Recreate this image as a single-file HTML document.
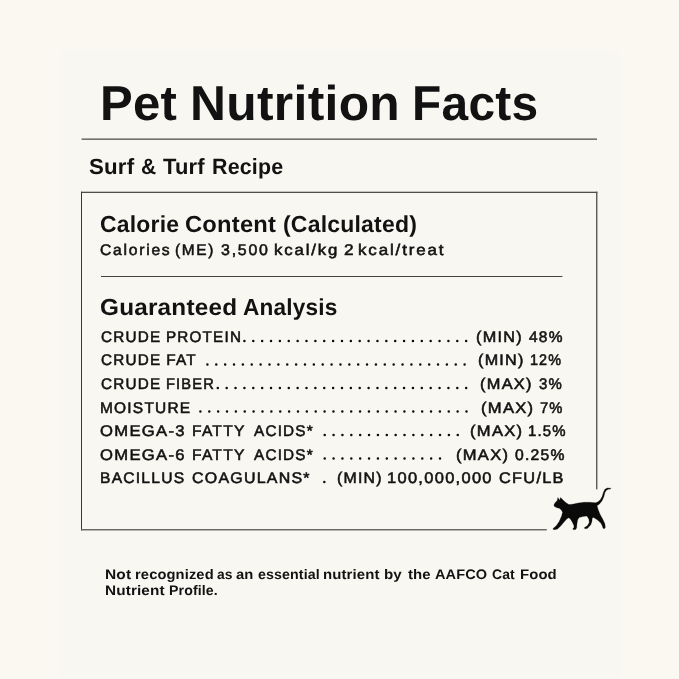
<!DOCTYPE html>
<html><head><meta charset="utf-8">
<style>
html,body{margin:0;padding:0;}
body{width:679px;height:679px;background:#fbf8f1;position:relative;overflow:hidden;font-family:"Liberation Sans",sans-serif;color:#121212;text-rendering:geometricPrecision;}
.panel{position:absolute;left:60px;top:50px;width:560px;height:640px;background:#f9f7f1;border-radius:6px;}
.wrap{position:absolute;left:0;top:0;width:679px;height:679px;will-change:transform;}
.t{position:absolute;white-space:nowrap;line-height:1;color:#121212;transform-origin:0 0;}
.title{font-size:49px;font-weight:bold;letter-spacing:0.3px;}
.sub{font-size:22px;font-weight:bold;letter-spacing:0.2px;}
.h{font-size:23.2px;font-weight:bold;letter-spacing:0.2px;}
.cal{font-size:15.4px;font-weight:normal;letter-spacing:1.7px;-webkit-text-stroke:0.55px #121212;}
.row{font-size:15.4px;font-weight:normal;letter-spacing:1.2px;-webkit-text-stroke:0.55px #121212;}
.fn{font-size:13.8px;font-weight:bold;letter-spacing:0.1px;}
svg{position:absolute;left:0;top:0;}
</style></head><body>
<div class="panel"></div>
<div class="wrap">
<span class="t title" style="left:99.85px;top:80px;transform:scaleX(1.0014);">Pet</span>
<span class="t title" style="left:190.10px;top:80px;transform:scaleX(1.0157);">Nutrition</span>
<span class="t title" style="left:412.32px;top:80px;transform:scaleX(0.9770);">Facts</span>
<span class="t sub" style="left:88.94px;top:156px;transform:scaleX(1.0125);">Surf</span>
<span class="t sub" style="left:140.65px;top:156px;transform:scaleX(0.9544);">&amp;</span>
<span class="t sub" style="left:163.05px;top:156px;transform:scaleX(0.9976);">Turf</span>
<span class="t sub" style="left:212.04px;top:156px;transform:scaleX(0.9718);">Recipe</span>
<span class="t h" style="left:100.01px;top:213px;transform:scaleX(0.9904);">Calorie</span>
<span class="t h" style="left:185.38px;top:213px;transform:scaleX(1.0246);">Content</span>
<span class="t h" style="left:282.96px;top:213px;transform:scaleX(0.9921);">(Calculated)</span>
<span class="t cal" style="left:100.29px;top:243px;transform:scaleX(1.0200);">Calories</span>
<span class="t cal" style="left:175.29px;top:243px;transform:scaleX(0.9994);">(ME)</span>
<span class="t cal" style="left:220.64px;top:243px;transform:scaleX(1.0357);">3,500</span>
<span class="t cal" style="left:273.88px;top:243px;transform:scaleX(1.0917);">kcal/kg</span>
<span class="t cal" style="left:344.04px;top:243px;transform:scaleX(1.1194);">2</span>
<span class="t cal" style="left:358.47px;top:243px;transform:scaleX(1.1006);">kcal/treat</span>
<span class="t h" style="left:100.25px;top:296px;transform:scaleX(1.0488);">Guaranteed</span>
<span class="t h" style="left:242.67px;top:296px;transform:scaleX(0.9753);">Analysis</span>
<span class="t row" style="left:100.70px;top:330px;transform:scaleX(0.9923);">CRUDE</span>
<span class="t row" style="left:166.31px;top:330px;transform:scaleX(0.9905);">PROTEIN</span>
<span class="t row" style="left:475.81px;top:330px;transform:scaleX(1.0550);">(MIN)</span>
<span class="t row" style="left:528.60px;top:330px;transform:scaleX(1.0061);">48%</span>
<span class="t row" style="left:100.70px;top:353px;transform:scaleX(0.9923);">CRUDE</span>
<span class="t row" style="left:166.30px;top:353px;transform:scaleX(1.0000);">FAT</span>
<span class="t row" style="left:478.11px;top:353px;transform:scaleX(1.0502);">(MIN)</span>
<span class="t row" style="left:529.66px;top:353px;transform:scaleX(0.9347);">12%</span>
<span class="t row" style="left:100.70px;top:377px;transform:scaleX(0.9923);">CRUDE</span>
<span class="t row" style="left:166.35px;top:377px;transform:scaleX(0.9529);">FIBER</span>
<span class="t row" style="left:480.13px;top:377px;transform:scaleX(1.0637);">(MAX)</span>
<span class="t row" style="left:538.76px;top:377px;transform:scaleX(0.9717);">3%</span>
<span class="t row" style="left:100.19px;top:401px;transform:scaleX(1.0062);">MOISTURE</span>
<span class="t row" style="left:481.20px;top:401px;transform:scaleX(1.0771);">(MAX)</span>
<span class="t row" style="left:539.66px;top:401px;transform:scaleX(0.9571);">7%</span>
<span class="t row" style="left:100.26px;top:424px;transform:scaleX(1.0803);">OMEGA-3</span>
<span class="t row" style="left:191.69px;top:424px;transform:scaleX(1.0148);">FATTY</span>
<span class="t row" style="left:253.75px;top:424px;transform:scaleX(0.9941);">ACIDS*</span>
<span class="t row" style="left:470.49px;top:424px;transform:scaleX(1.0755);">(MAX)</span>
<span class="t row" style="left:528.35px;top:424px;transform:scaleX(0.9706);">1.5%</span>
<span class="t row" style="left:100.26px;top:448px;transform:scaleX(1.0803);">OMEGA-6</span>
<span class="t row" style="left:191.69px;top:448px;transform:scaleX(1.0148);">FATTY</span>
<span class="t row" style="left:253.75px;top:448px;transform:scaleX(0.9941);">ACIDS*</span>
<span class="t row" style="left:456.30px;top:448px;transform:scaleX(1.0733);">(MAX)</span>
<span class="t row" style="left:514.94px;top:448px;transform:scaleX(1.0209);">0.25%</span>
<span class="t row" style="left:100.18px;top:471px;transform:scaleX(1.0160);">BACILLUS</span>
<span class="t row" style="left:192.18px;top:471px;transform:scaleX(1.0358);">COAGULANS*</span>
<span class="t row" style="left:336.93px;top:471px;transform:scaleX(1.0311);">(MIN)</span>
<span class="t row" style="left:387.03px;top:471px;transform:scaleX(1.0712);">100,000,000</span>
<span class="t row" style="left:499.17px;top:471px;transform:scaleX(1.0611);">CFU/LB</span>
<span class="t fn" style="left:105.25px;top:568px;transform:scaleX(1.1229);">Not</span>
<span class="t fn" style="left:135.13px;top:568px;transform:scaleX(1.0668);">recognized</span>
<span class="t fn" style="left:217.20px;top:568px;transform:scaleX(1.0029);">as</span>
<span class="t fn" style="left:236.36px;top:568px;transform:scaleX(1.0707);">an</span>
<span class="t fn" style="left:258.28px;top:568px;transform:scaleX(1.0309);">essential</span>
<span class="t fn" style="left:323.12px;top:568px;transform:scaleX(1.0834);">nutrient</span>
<span class="t fn" style="left:384.30px;top:568px;transform:scaleX(1.0993);">by</span>
<span class="t fn" style="left:408.13px;top:568px;transform:scaleX(1.0842);">the</span>
<span class="t fn" style="left:435.37px;top:568px;transform:scaleX(1.0517);">AAFCO</span>
<span class="t fn" style="left:492.00px;top:568px;transform:scaleX(1.0092);">Cat</span>
<span class="t fn" style="left:520.42px;top:568px;transform:scaleX(1.0796);">Food</span>
<span class="t fn" style="left:104.69px;top:584px;transform:scaleX(1.1115);">Nutrient</span>
<span class="t fn" style="left:168.77px;top:584px;transform:scaleX(1.0253);">Profile.</span>
</div>
<svg width="679" height="679" viewBox="0 0 679 679">
<rect x="81.6" y="138.38" width="515.4" height="1.62" fill="#73716c"/>
<rect x="81" y="191.7" width="516.45" height="1.3" fill="#504e4a"/>
<rect x="81" y="191.7" width="1" height="338.75" fill="#383834"/>
<rect x="596" y="191.7" width="1.45" height="297.7" fill="#5f5f5a"/>
<rect x="81" y="529" width="465.8" height="1.45" fill="#696762"/>
<rect x="101" y="276" width="461.4" height="1" fill="#44443e"/>
<g stroke="#0c0c0c" stroke-width="2.5" stroke-linecap="round" stroke-dasharray="0 8.87" fill="none"><line x1="244.40" y1="341.00" x2="466.16" y2="341.00"/><line x1="207.40" y1="364.52" x2="464.64" y2="364.52"/><line x1="217.80" y1="388.04" x2="466.17" y2="388.04"/><line x1="200.40" y1="411.56" x2="466.51" y2="411.56"/><line x1="324.70" y1="435.08" x2="457.76" y2="435.08"/><line x1="324.70" y1="458.60" x2="440.02" y2="458.60"/><line x1="324.30" y1="482.12" x2="324.31" y2="482.12"/></g>
<polygon points="610.69,488.18 607.29,487.89 604.86,489.35 603.40,492.26 602.24,496.15 600.49,499.55 598.06,501.69 595.63,502.66 589.80,502.27 583.96,502.27 578.13,503.05 572.30,504.22 568.90,504.61 566.47,502.95 564.04,501.01 562.58,499.55 560.64,497.41 559.57,500.14 557.91,497.41 557.23,500.52 555.29,502.47 553.83,504.90 554.32,506.36 556.26,507.62 559.18,508.30 561.12,509.76 562.58,512.19 561.61,516.08 559.18,521.42 556.26,525.80 553.35,528.23 552.86,529.20 554.80,529.68 557.53,529.00 560.44,526.28 564.04,522.10 566.95,518.80 568.90,517.73 570.55,519.19 572.49,522.39 573.86,525.60 574.05,527.45 572.69,528.71 573.47,529.68 575.70,529.49 576.67,527.74 576.97,523.85 577.65,519.96 579.10,517.53 582.99,516.56 586.88,516.08 588.82,518.99 589.31,522.39 587.37,525.80 584.45,527.55 584.74,528.71 587.37,528.52 590.77,524.82 591.93,521.42 592.23,518.02 593.68,517.53 597.57,519.96 600.97,523.37 602.63,526.77 602.92,528.23 604.38,528.71 605.35,527.25 604.86,523.85 602.92,519.48 600.00,514.13 598.06,509.27 597.09,505.87 599.52,503.93 601.95,501.01 603.89,496.64 604.86,492.75 606.32,490.32 608.26,489.35 610.69,489.05" fill="#0a0a0a" stroke="#0a0a0a" stroke-width="0.25" stroke-linejoin="round"/>
</svg>
</body></html>
